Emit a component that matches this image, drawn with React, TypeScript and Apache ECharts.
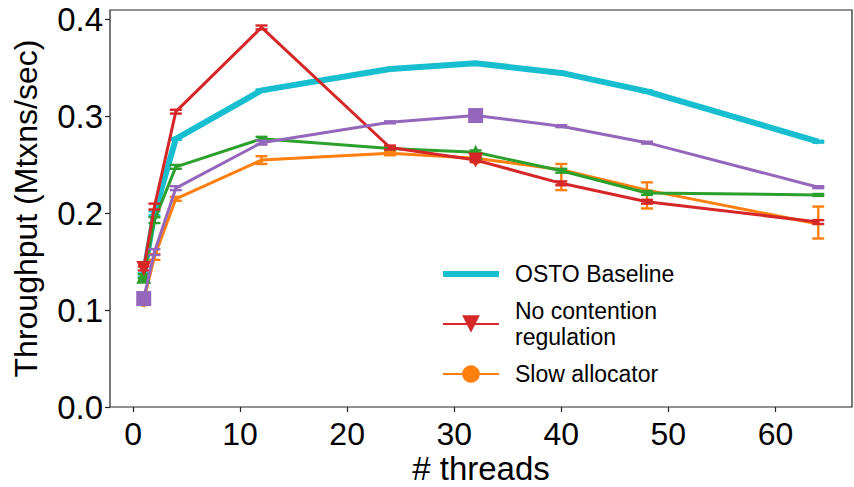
import React, { useEffect, useRef } from "react";
import * as echarts from "echarts";

// Thread counts measured
const threads = [1, 2, 4, 12, 24, 32, 40, 48, 64];
// Thread counts that carry a marker
const markerThreads = [1, 32];

const xTicks = [0, 10, 20, 30, 40, 50, 60];
const yTicks = [0, 0.1, 0.2, 0.3, 0.4];

// Throughput in Mtxns/sec
const ostoBaseline = [0.136, 0.2, 0.277, 0.327, 0.349, 0.355, 0.345, 0.326, 0.274];
const ostoBaselineErr = [0.002, 0.002, 0.001, 0.001, 0.001, 0.001, 0.001, 0.001, 0.001];

const noContention = [0.143, 0.207, 0.305, 0.392, 0.268, 0.255, 0.231, 0.212, 0.191];
const noContentionErr = [0.002, 0.003, 0.002, 0.002, 0.002, 0.002, 0.002, 0.002, 0.002];

const slowAllocator = [0.11, 0.155, 0.215, 0.255, 0.262, 0.257, 0.245, 0.224, 0.189];
const slowAllocatorErrLow = [0.002, 0.003, 0.002, 0.004, 0.002, 0.003, 0.021, 0.019, 0.015];
const slowAllocatorErrHigh = [0.002, 0.003, 0.002, 0.004, 0.002, 0.003, 0.006, 0.008, 0.018];

const variantGreen = [0.135, 0.193, 0.248, 0.277, 0.267, 0.263, 0.244, 0.221, 0.219];
const variantGreenErr = [0.002, 0.003, 0.002, 0.002, 0.001, 0.002, 0.002, 0.002, 0.001];

const variantPurple = [0.112, 0.16, 0.226, 0.273, 0.294, 0.301, 0.29, 0.273, 0.227];
const variantPurpleErr = [0.002, 0.003, 0.002, 0.002, 0.001, 0.002, 0.001, 0.001, 0.001];

const FONT = "'Liberation Sans', Arial, sans-serif";
const CYAN = "#17becf";
const RED = "#d62728";
const ORANGE = "#ff7f0e";
const GREEN = "#2ca02c";
const PURPLE = "#9467bd";

function lineSeries(
  name: string,
  values: number[],
  color: string,
  width: number,
  symbol: string,
  size: number,
  rotate: number,
  z: number
) {
  return {
    type: "line",
    name,
    z,
    symbol,
    symbolSize: size,
    symbolRotate: rotate,
    showSymbol: true,
    emphasis: { disabled: true },
    lineStyle: { color, width, join: "round" },
    itemStyle: { color },
    data: threads.map((t, i) =>
      symbol !== "none" && markerThreads.includes(t)
        ? { value: [t, values[i]] }
        : { value: [t, values[i]], symbol: "none" }
    ),
  };
}

function errorBars(values: number[], low: number[], high: number[], color: string, z: number) {
  return {
    type: "custom",
    z,
    silent: true,
    data: threads.map((t, i) => [t, values[i] - low[i], values[i] + high[i]]),
    encode: { x: 0, y: [1, 2] },
    renderItem: (_params: any, api: any) => {
      const x = api.value(0);
      const lo = api.coord([x, api.value(1)]);
      const hi = api.coord([x, api.value(2)]);
      const half = 6;
      const style = { stroke: color, lineWidth: 2.4 };
      return {
        type: "group",
        children: [
          { type: "line", shape: { x1: lo[0], y1: lo[1], x2: hi[0], y2: hi[1] }, style },
          { type: "line", shape: { x1: lo[0] - half, y1: lo[1], x2: lo[0] + half, y2: lo[1] }, style },
          { type: "line", shape: { x1: hi[0] - half, y1: hi[1], x2: hi[0] + half, y2: hi[1] }, style },
        ],
      };
    },
  };
}

export default function App() {
  const ref = useRef<HTMLDivElement>(null);

  useEffect(() => {
    document.body.style.margin = "0";
    if (!ref.current) return;
    const chart = echarts.init(ref.current, null, { renderer: "svg" });

    chart.setOption({
      animation: false,
      backgroundColor: "#ffffff",
      textStyle: { fontFamily: FONT },
      grid: {
        left: 110,
        right: 2,
        top: 10,
        bottom: 80,
        outerBoundsMode: "none",
        containLabel: false,
        show: true,
        borderColor: "#222",
        borderWidth: 1.2,
        backgroundColor: "transparent",
      },
      xAxis: {
        type: "value",
        min: -2.15,
        max: 67.15,
        name: "# threads",
        nameLocation: "middle",
        nameGap: 45,
        nameMoveOverlap: false,
        nameTextStyle: { fontSize: 33, color: "#000", fontFamily: FONT },
        axisLine: { show: false, onZero: false },
        splitLine: { show: false },
        axisTick: {
          show: true,
          customValues: xTicks,
          length: 5,
          lineStyle: { color: "#222", width: 1.2 },
        },
        axisLabel: {
          customValues: xTicks,
          fontSize: 32,
          color: "#000",
          margin: 11,
          fontFamily: FONT,
        },
      },
      yAxis: {
        type: "value",
        min: 0,
        max: 0.41,
        name: "Throughput (Mtxns/sec)",
        nameLocation: "middle",
        nameGap: 68,
        nameMoveOverlap: false,
        nameTextStyle: { fontSize: 32, color: "#000", fontFamily: FONT },
        axisLine: { show: false, onZero: false },
        splitLine: { show: false },
        axisTick: {
          show: true,
          customValues: yTicks,
          length: 5,
          lineStyle: { color: "#222", width: 1.2 },
        },
        axisLabel: {
          customValues: yTicks,
          fontSize: 33,
          color: "#000",
          margin: 7,
          fontFamily: FONT,
          formatter: (v: number) => v.toFixed(1),
        },
      },
      legend: {
        orient: "vertical",
        left: 442,
        top: 261,
        padding: 0,
        itemWidth: 56,
        itemHeight: 22,
        itemGap: 11,
        selectedMode: false,
        textStyle: {
          fontSize: 23,
          lineHeight: 26,
          color: "#000",
          fontFamily: FONT,
          padding: [0, 0, 0, 11],
        },
        formatter: (name: string) =>
          name === "No contention regulation" ? "No contention\nregulation" : name,
        data: [
          { name: "OSTO Baseline", icon: "path://M0,0L56,0L56,6L0,6Z" },
          { name: "No contention regulation" },
          { name: "Slow allocator" },
        ],
      },
      series: [
        lineSeries("OSTO Baseline", ostoBaseline, CYAN, 6, "none", 0, 0, 2),
        errorBars(ostoBaseline, ostoBaselineErr, ostoBaselineErr, CYAN, 2),
        lineSeries("Slow allocator", slowAllocator, ORANGE, 3, "circle", 13, 0, 3),
        errorBars(slowAllocator, slowAllocatorErrLow, slowAllocatorErrHigh, ORANGE, 3),
        lineSeries("Green variant", variantGreen, GREEN, 3, "triangle", 15, 0, 4),
        errorBars(variantGreen, variantGreenErr, variantGreenErr, GREEN, 4),
        lineSeries("No contention regulation", noContention, RED, 3, "triangle", 15, 180, 5),
        errorBars(noContention, noContentionErr, noContentionErr, RED, 5),
        lineSeries("Purple variant", variantPurple, PURPLE, 3, "rect", 15, 0, 6),
        errorBars(variantPurple, variantPurpleErr, variantPurpleErr, PURPLE, 6),
      ],
    });

    return () => chart.dispose();
  }, []);

  return <div ref={ref} style={{ width: 854, height: 487 }} />;
}
